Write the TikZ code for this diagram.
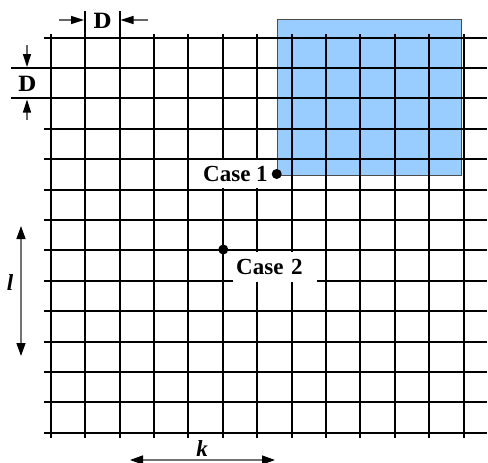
\documentclass[tikz,border=0pt]{standalone}
\usepackage{fontspec}
\setmainfont{Liberation Serif}
\newfontfamily\heavyfont{DejaVu Serif}
\usepackage{tikz}
\usetikzlibrary{arrows.meta}

\begin{document}
\begin{tikzpicture}[
    x=1pt, y=-1pt,
    every node/.style={font=\fontsize{23}{25}\selectfont\bfseries},
    gridline/.style={line width=2pt, black},
    region/.style={draw=black!70, line width=1pt, fill={rgb,255:red,153;green,204;blue,255}},
    caselabel/.style={fill=white, inner xsep=3pt, inner ysep=0pt,
                      minimum height=28pt, anchor=west},
    dimlabel/.style={font=\heavyfont\fontsize{21}{23}\selectfont\bfseries},
    dot/.style={circle, fill=black, inner sep=0pt, minimum size=10pt},
    dimarrow/.style={-{Triangle[length=13pt, width=8pt, color=black]},
                     line width=1.2pt, draw=black!60},
    spanarrow/.style={{Triangle[length=13pt, width=9pt, color=black]}-{Triangle[length=13pt, width=9pt, color=black]},
                      line width=1.4pt, draw=black!55},
]
\useasboundingbox (0,0) rectangle (488,463);

%% Shaded region (behind the grid)
\draw[region] (277.3,19) rectangle (461,175.7);

%% Grid
\foreach \i in {0,...,12}
    \draw[gridline] ({50.7+34.42*\i},34) -- ({50.7+34.42*\i},438);
\foreach \j in {0,...,13}
    \draw[gridline] (44,{37.5+30.4*\j}) -- (487,{37.5+30.4*\j});

%% Extension lines for the spacing D
\draw[gridline] (85.1,11) -- (85.1,34);
\draw[gridline] (119.5,11) -- (119.5,34);
\draw[gridline] (11,67.9) -- (44,67.9);
\draw[gridline] (11,98.3) -- (44,98.3);

%% Spacing labels
\node[dimlabel] (dtop)  at (102.3,21) {D};
\node[dimlabel] (dleft) at (27,84) {D};
\coordinate (dtopa) at (59,20);
\coordinate (dtopb) at (84,20);
\coordinate (dtopc) at (148,20);
\coordinate (dtopd) at (120.5,20);
\coordinate (dlefta) at (27,45);
\coordinate (dleftb) at (27,67);
\coordinate (dleftc) at (27,120);
\coordinate (dleftd) at (27,99.5);
\draw[dimarrow] (dtopa) -- (dtopb);
\draw[dimarrow] (dtopc) -- (dtopd);
\draw[dimarrow] (dlefta) -- (dleftb);
\draw[dimarrow] (dleftc) -- (dleftd);

%% Extent arrows l and k
\coordinate (ltop) at (21,226);
\coordinate (lbot) at (21,356);
\coordinate (kleft) at (130,460);
\coordinate (kright) at (275,460);
\draw[spanarrow] (ltop) -- (lbot);
\draw[spanarrow] (kleft) -- (kright);
\node (lname) at (10,283) {\itshape l};
\node (kname) at (202,449) {\itshape k};

%% Cases
\node[caselabel] (case1) at (200,174) {Case 1};
\node[caselabel, minimum height=30pt, text width=78pt, align=left] (case2) at (233,267) {Case 2};
\node[dot] (p1) at (276.7,174) {};
\node[dot] (p2) at (223.3,249.5) {};

\end{tikzpicture}
\end{document}
